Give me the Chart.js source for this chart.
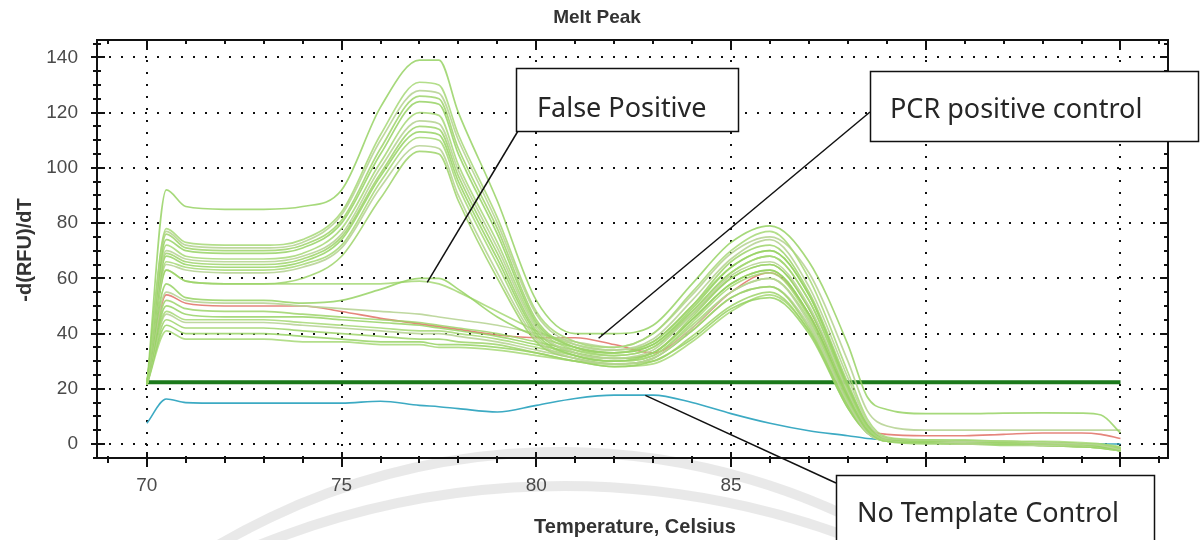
<!DOCTYPE html>
<html>
<head>
<meta charset="utf-8">
<script src="https://cdn.jsdelivr.net/npm/chart.js@4.4.0/dist/chart.umd.min.js"></script>
<style>
  html, body { margin: 0; padding: 0; background: #fff; }
  #wrap { width: 1202px; height: 540px; }
</style>
</head>
<body>
<div id="wrap"><canvas id="melt-chart" width="1202" height="540"></canvas></div>
<script>
// temperature points (Celsius) shared by every trace
const temps = [70, 70.5, 71, 72, 73, 74, 75, 76, 77, 77.5, 78, 79, 80, 81, 82, 83, 84, 85, 86, 87, 88, 88.5, 89, 90, 91, 92, 93, 94, 94.5, 95];

// samples with the big 77C peak
const peakA1 = [21.5, 92, 86, 85, 85, 86, 92, 122, 139, 139, 120, 88, 52, 40, 40, 43, 58, 73, 79, 66, 36, 17, 12.5, 11, 11, 11.2, 11.3, 11.2, 10.5, 4];
const peakA2 = [21.5, 78, 73, 72, 72, 74, 84, 112, 131, 130, 112, 82, 48, 37, 35, 40, 55, 70, 77, 60, 26, 9, 2.5, 1.5, 1.5, 1, 1, 0.5, 0, -1.5];
const peakA3 = [21.5, 77, 72, 71, 71, 73, 83, 110, 128, 127, 110, 80, 47, 36, 34, 38, 52, 67, 74, 57, 24, 8, 2, 1.5, 1, 1, 0.5, 0, -0.5, -2];
const peakA4 = [21.5, 76, 71, 70, 70, 72, 81, 107, 126, 125, 107, 78, 45, 35, 33, 37, 50, 66, 72, 55, 22, 7, 2, 1, 1, 0.5, 0.5, 0, -0.5, -2];
const peakA5 = [21.5, 74, 70, 69, 69, 71, 80, 105, 124, 123, 105, 76, 44, 35, 33, 36, 49, 64, 70, 54, 21, 7, 2, 1, 1, 1, 0.5, 0, -1, -2.5];
const peakA6 = [21.5, 72, 68, 67, 67, 69, 78, 102, 120, 119, 101, 73, 43, 34, 32, 35, 48, 62, 68, 52, 20, 6, 1.5, 1, 1, 0.5, 0, -0.5, -1, -2];
const peakA7 = [21.5, 70, 67, 66, 66, 68, 76, 100, 117, 116, 99, 71, 42, 33, 31, 34, 47, 61, 66, 50, 19, 6, 1.5, 1, 0.5, 0.5, 0, -0.5, -1, -2.5];
const peakA8 = [21.5, 69, 66, 65, 65, 67, 75, 98, 115, 114, 97, 69, 41, 33, 31, 33, 46, 60, 65, 49, 18, 5, 1.5, 1, 0.5, 0.5, 0, 0, -0.5, -1.5];
const peakA9 = [21.5, 68, 65, 64, 64, 66, 74, 97, 113, 112, 95, 67, 40, 32, 30, 33, 45, 58, 63, 47, 17, 5, 1, 0.5, 0.5, 0, 0, -0.5, -1, -2];
const peakA10 = [21.5, 66, 64, 63, 63, 65, 72, 95, 111, 110, 93, 65, 39, 32, 30, 32, 44, 57, 62, 46, 16, 5, 1, 0.5, 0.5, 0, 0, -0.5, -1, -2.5];
const peakA11 = [21.5, 65, 63, 62, 62, 64, 71, 93, 108, 107, 90, 62, 38, 31, 29, 31, 42, 55, 60, 44, 15, 4, 1, 0.5, 0, 0, -0.5, -0.5, -1, -2];
const peakA12 = [21.5, 63, 59, 58, 58, 60, 68, 89, 106, 105, 88, 60, 37, 31, 29, 31, 41, 53, 57, 42, 14, 4, 1, 0.5, 0, 0, -0.5, -1, -1.5, -2.5];

// false positive bump near 77C
const falsePos1 = [21.5, 58, 53, 52, 52, 51, 52, 56, 60, 60, 56, 46, 39, 35, 33, 36, 48, 62, 68, 52, 20, 6, 2, 1, 1, 0.5, 0.5, 0, -0.5, -1.5];
const falsePos2 = [21.5, 63, 59, 58, 58, 58, 58, 58, 59, 58, 55, 48, 41, 36, 34, 37, 50, 64, 70, 54, 21, 7, 2, 1.5, 1, 1, 0.5, 0, 0, -1];

// samples with only the 86C peak
const lowB1 = [21.5, 55, 52, 51, 51, 50, 49, 48, 47, 46, 45, 43, 40, 37, 35, 40, 54, 69, 75, 62, 30, 12, 6.5, 5, 5, 5, 5, 5, 5, 5];
const lowB2 = [21.5, 52, 49, 48, 48, 47, 46, 45, 44, 43, 42, 40, 37, 34, 32, 35, 47, 60, 65, 49, 18, 5, 1.5, 1, 1, 0.5, 0.5, 0, -0.5, -1.5];
const lowB3 = [21.5, 50, 47, 46, 46, 46, 45, 44, 43, 42, 41, 39, 36, 33, 31, 33, 45, 58, 63, 47, 17, 5, 1.5, 1, 0.5, 0.5, 0, 0, -0.5, -1.5];
const lowB4 = [21.5, 48, 45, 45, 45, 44, 43, 42, 41, 41, 40, 38, 35, 32, 30, 32, 43, 55, 60, 45, 16, 5, 1, 0.5, 0.5, 0, 0, -0.5, -1, -2];
const lowB5 = [21.5, 47, 44, 44, 44, 43, 42, 41, 40, 40, 39, 37, 34, 31, 29, 31, 41, 53, 57, 43, 15, 4, 1, 0.5, 0.5, 0, -0.5, -0.5, -1, -2];
const lowB6 = [21.5, 45, 42, 42, 42, 41, 40, 39, 38, 38, 37, 36, 33, 30, 29, 30, 39, 50, 55, 41, 14, 4, 1, 0.5, 0, 0, -0.5, -1, -1, -2];
const lowB7 = [21.5, 43, 40, 40, 40, 39, 38, 37, 37, 36, 36, 35, 33, 30, 28, 30, 38, 49, 53, 40, 13, 4, 1, 0, 0, -0.5, -0.5, -1, -1.5, -2.5];
const lowB8 = [21.5, 41, 38, 38, 38, 37, 37, 36, 36, 35, 35, 34, 32, 30, 28, 29, 37, 48, 54, 41, 13, 4, 1, 0.5, 0, 0, -0.5, -1, -1.5, -2];

const positiveControl = [21.5, 54, 51, 50, 50, 50, 48, 45.5, 43.5, 42.5, 41.5, 39.5, 38.5, 38.5, 36, 33, 42, 55, 62, 47, 17, 6, 3.5, 3, 3, 3.5, 4, 4, 3.5, 2];
const noTemplate = [7.5, 16.3, 15, 14.8, 14.8, 14.8, 14.8, 15.5, 14, 13.5, 12.8, 11.6, 14, 16.5, 17.7, 17.7, 15, 11, 7.5, 4.8, 3, 2, 1.5, 1, 1, 0.5, 0.5, 0, 0, 0];

const thresholdTemps = [70, 95];
const thresholdLevel = [22.4, 22.4];

const xTickLabels = [70, 75, 80, 85, 90, 95];
const xMinorTicks = [69, 71, 72, 73, 74, 76, 77, 78, 79, 81, 82, 83, 84, 86, 87, 88, 89, 91, 92, 93, 94, 96];
const yTickLabels = [0, 20, 40, 60, 80, 100, 120, 140];
const yMinorTicks = [-5, 5, 10, 15, 25, 30, 35, 45, 50, 55, 65, 70, 75, 85, 90, 95, 105, 110, 115, 125, 130, 135, 145];

const calloutTexts = ['False Positive', 'PCR positive control', 'No Template Control'];
const calloutTips = [[77.2, 58.5], [81.6, 38.3], [82.8, 17.6]];

const greenSeries = [peakA1, peakA2, peakA3, peakA4, peakA5, peakA6, peakA7, peakA8, peakA9, peakA10, peakA11, peakA12,
  falsePos1, falsePos2, lowB1, lowB2, lowB3, lowB4, lowB5, lowB6, lowB7, lowB8];
const greenShades = ['rgba(150, 210, 100, 0.85)', 'rgba(166, 216, 118, 0.85)', 'rgba(184, 212, 150, 0.9)', 'rgba(158, 212, 106, 0.85)'];

function toPoints(xs, ys) {
  return xs.map((t, i) => ({ x: t, y: ys[i] }));
}

const datasets = greenSeries.map((s, i) => ({
  data: toPoints(temps, s),
  borderColor: greenShades[i % greenShades.length],
  borderWidth: 1.7
}));
datasets.push({ data: toPoints(temps, positiveControl), borderColor: 'rgba(226, 120, 110, 0.9)', borderWidth: 1.6 });
datasets.push({ data: toPoints(temps, noTemplate), borderColor: 'rgb(60, 170, 195)', borderWidth: 1.6 });
datasets.push({ data: toPoints(thresholdTemps, thresholdLevel), borderColor: 'rgb(28, 122, 28)', borderWidth: 4, cubicInterpolationMode: 'default', tension: 0 });

// callout boxes, in canvas pixels
const calloutBoxes = [
  { x: 516, y: 68, w: 222, h: 63, tx: 537, ty: 117, ax: 518, ay: 131 },
  { x: 870, y: 71, w: 328, h: 70, tx: 890, ty: 118, ax: 870, ay: 112 },
  { x: 836, y: 475, w: 318, h: 80, tx: 857, ty: 522, ax: 836, ay: 483 }
];

function line(ctx, x1, y1, x2, y2) {
  ctx.beginPath();
  ctx.moveTo(x1, y1);
  ctx.lineTo(x2, y2);
  ctx.stroke();
}

const meltDecor = {
  id: 'meltDecor',
  beforeDraw(chart) {
    // faint watermark rings behind the chart
    const ctx = chart.ctx;
    ctx.save();
    ctx.strokeStyle = 'rgba(215, 215, 215, 0.55)';
    ctx.lineWidth = 10;
    ctx.beginPath();
    ctx.arc(560, 1126, 674, Math.PI * 1.25, Math.PI * 1.7);
    ctx.stroke();
    ctx.beginPath();
    ctx.arc(564, 1303, 817, Math.PI * 1.3, Math.PI * 1.66);
    ctx.stroke();
    ctx.restore();
  },
  beforeDatasetsDraw(chart) {
    const { ctx, chartArea: a, scales: { x, y } } = chart;
    ctx.save();
    ctx.strokeStyle = '#111';
    ctx.lineWidth = 2;
    ctx.setLineDash([2, 10]);
    xTickLabels.forEach(v => {
      const px = Math.round(x.getPixelForValue(v));
      line(ctx, px, a.bottom, px, a.top);
    });
    yTickLabels.forEach(v => {
      const py = Math.round(y.getPixelForValue(v));
      line(ctx, a.left, py, a.right, py);
    });
    ctx.restore();
  },
  afterDatasetsDraw(chart) {
    const { ctx, chartArea: a, scales: { x, y } } = chart;
    ctx.save();
    ctx.strokeStyle = '#111';
    ctx.lineWidth = 2;
    ctx.strokeRect(a.left, a.top, a.right - a.left, a.bottom - a.top);
    yTickLabels.forEach(v => {
      const py = Math.round(y.getPixelForValue(v));
      line(ctx, a.left - 6, py, a.left + 8, py);
      line(ctx, a.right - 8, py, a.right, py);
    });
    yMinorTicks.forEach(v => {
      const py = Math.round(y.getPixelForValue(v));
      if (py < a.top || py > a.bottom) return;
      line(ctx, a.left - 4, py, a.left + 4, py);
      line(ctx, a.right - 4, py, a.right, py);
    });
    xTickLabels.forEach(v => {
      const px = Math.round(x.getPixelForValue(v));
      line(ctx, px, a.bottom - 6, px, a.bottom + 9);
      line(ctx, px, a.top, px, a.top + 8);
    });
    xMinorTicks.forEach(v => {
      const px = Math.round(x.getPixelForValue(v));
      if (px < a.left || px > a.right) return;
      line(ctx, px, a.bottom - 2, px, a.bottom + 5);
      line(ctx, px, a.top, px, a.top + 4);
    });
    ctx.restore();
  },
  afterDraw(chart) {
    const { ctx, scales: { x, y } } = chart;
    ctx.save();
    ctx.fillStyle = '#333';
    ctx.textAlign = 'center';
    ctx.textBaseline = 'middle';
    ctx.font = 'bold 19px "Liberation Sans", Arial, sans-serif';
    ctx.fillText('Melt Peak', 597, 18);
    ctx.font = 'bold 20px "Liberation Sans", Arial, sans-serif';
    ctx.fillText('Temperature, Celsius', 635, 527);
    ctx.save();
    ctx.translate(25, 250);
    ctx.rotate(-Math.PI / 2);
    ctx.fillText('-d(RFU)/dT', 0, 0);
    ctx.restore();

    // callouts
    ctx.textAlign = 'left';
    ctx.textBaseline = 'alphabetic';
    ctx.font = '27px "Noto Sans", sans-serif';
    calloutBoxes.forEach((b, i) => {
      const tip = calloutTips[i];
      ctx.strokeStyle = '#111';
      ctx.lineWidth = 1.5;
      line(ctx, b.ax, b.ay, x.getPixelForValue(tip[0]), y.getPixelForValue(tip[1]));
      ctx.fillStyle = '#fff';
      ctx.fillRect(b.x, b.y, b.w, b.h);
      ctx.strokeRect(b.x + 0.5, b.y + 0.5, b.w, b.h);
      ctx.fillStyle = '#262626';
      ctx.fillText(calloutTexts[i], b.tx, b.ty);
    });
    ctx.restore();
  }
};

new Chart(document.getElementById('melt-chart').getContext('2d'), {
  type: 'line',
  data: { datasets: datasets },
  options: {
    responsive: false,
    animation: false,
    devicePixelRatio: 1,
    layout: { padding: { top: 40, right: 34, left: 0, bottom: 0 } },
    elements: {
      point: { radius: 0 },
      line: { cubicInterpolationMode: 'monotone', fill: false }
    },
    plugins: { legend: { display: false }, tooltip: { enabled: false }, title: { display: false } },
    scales: {
      x: {
        type: 'linear',
        min: 68.72,
        max: 96.22,
        afterBuildTicks: s => { s.ticks = xTickLabels.map(v => ({ value: v })); },
        afterFit: s => { s.height = 82; },
        grid: { display: false, drawTicks: false },
        border: { display: false },
        ticks: {
          autoSkip: false,
          maxRotation: 0,
          padding: 16,
          color: '#4a4a4a',
          font: { family: '"Liberation Sans", Arial, sans-serif', size: 19 }
        }
      },
      y: {
        min: -5.07,
        max: 146.3,
        afterBuildTicks: s => { s.ticks = yTickLabels.map(v => ({ value: v })); },
        afterFit: s => { s.width = 97; },
        grid: { display: false, drawTicks: false },
        border: { display: false },
        ticks: {
          padding: 19,
          color: '#4a4a4a',
          font: { family: '"Liberation Sans", Arial, sans-serif', size: 19 }
        }
      }
    }
  },
  plugins: [meltDecor]
});
</script>
</body>
</html>
